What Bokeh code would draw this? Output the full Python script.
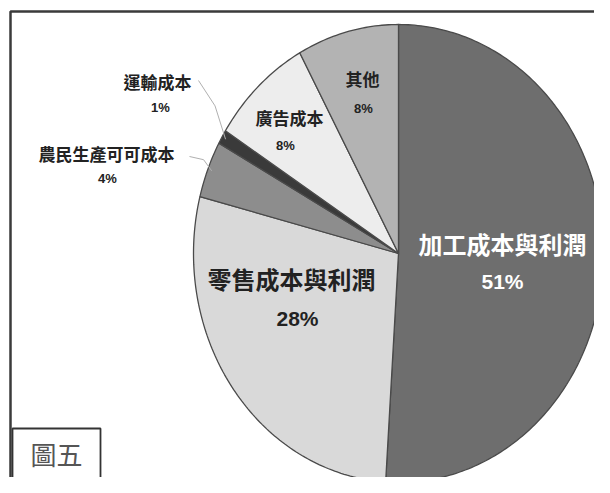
import numpy as np
from bokeh.plotting import figure
from bokeh.models import Range1d, ColumnDataSource
from bokeh.core.properties import value
from bokeh.embed import file_html
from bokeh.resources import INLINE

# ---- data ----
categories = ["加工成本與利潤", "零售成本與利潤", "農民生產可可成本", "運輸成本", "廣告成本", "其他"]
percents = [51, 28, 4, 1, 8, 8]
pct_labels = ["51%", "28%", "4%", "1%", "8%", "8%"]
figure_label = "圖五"

# ---- styles / layout ----
colors = ["#6e6e6e", "#d9d9d9", "#8d8d8d", "#3a3a3a", "#ededed", "#b3b3b3"]
name_colors = ["#ffffff", "#222222", "#222222", "#222222", "#222222", "#222222"]
name_sizes = ["24px", "24px", "17px", "17px", "17px", "17px"]
pct_sizes = ["21px", "21px", "13px", "13px", "13px", "13px"]
name_pos = [(502, 243), (291, 278), (106, 153), (157, 81), (289, 117), (362, 78)]
pct_pos = [(502, 281), (297, 318), (107, 178), (160, 107), (285, 145), (363, 108)]

W, H = 594, 477
p = figure(width=W, height=H, x_range=Range1d(0, W), y_range=Range1d(H, 0),
           output_backend="svg", toolbar_location=None, min_border=0)
p.axis.visible = False
p.grid.visible = False
p.outline_line_color = None
p.background_fill_color = "white"
p.border_fill_color = "white"

# outer frame (top and left edges)
p.line([10, 10, W], [H, 11, 11], line_color="#3a3a3a", line_width=2.5)

# pie (slightly elliptical, like the scan)
cx, cy, rx, ry = 398, 253, 205, 229
fr = np.cumsum([0] + percents) / sum(percents) * 2 * np.pi
xs, ys = [], []
for i in range(len(percents)):
    t = np.linspace(fr[i], fr[i + 1], max(4, int(percents[i] * 4)))
    xs.append([cx] + list(cx + rx * np.sin(t)))
    ys.append([cy] + list(cy - ry * np.cos(t)))
src = ColumnDataSource(dict(xs=xs, ys=ys, color=colors, name=categories))
p.patches("xs", "ys", source=src, fill_color="color", line_color="#4a4a4a", line_width=1.3)

# leader lines for the small slices
mid = (fr[:-1] + fr[1:]) / 2
for i, (sx, sy) in [(3, (198, 80)), (2, (189, 156))]:
    ex = cx + rx * 0.98 * np.sin(mid[i])
    ey = cy - ry * 0.98 * np.cos(mid[i])
    p.line([sx, (sx + ex) / 2 + 3, ex], [sy, (sy + ey) / 2 - 4, ey], line_color="#b0b0b0", line_width=1)

# labels
lab = ColumnDataSource(dict(
    x=[q[0] for q in name_pos], y=[q[1] for q in name_pos], text=categories,
    color=name_colors, size=name_sizes))
p.text("x", "y", text="text", source=lab, text_color="color", text_font_size="size",
       text_font=value("Noto Sans CJK TC"), text_font_style="bold",
       text_align="center", text_baseline="middle")
lab2 = ColumnDataSource(dict(
    x=[q[0] for q in pct_pos], y=[q[1] for q in pct_pos], text=pct_labels,
    color=name_colors, size=pct_sizes))
p.text("x", "y", text="text", source=lab2, text_color="color", text_font_size="size",
       text_font=value("Liberation Sans"), text_font_style="bold",
       text_align="center", text_baseline="middle")

# figure tag box
p.line([12, 12, 100, 100], [H, 428, 428, H], line_color="#333333", line_width=1.8)
p.text([56], [453], text=[figure_label], text_color="#555555", text_font_size="26px",
       text_font=value("Noto Sans CJK TC"), text_align="center", text_baseline="middle")

open("out.html", "w").write(file_html(p, INLINE))
